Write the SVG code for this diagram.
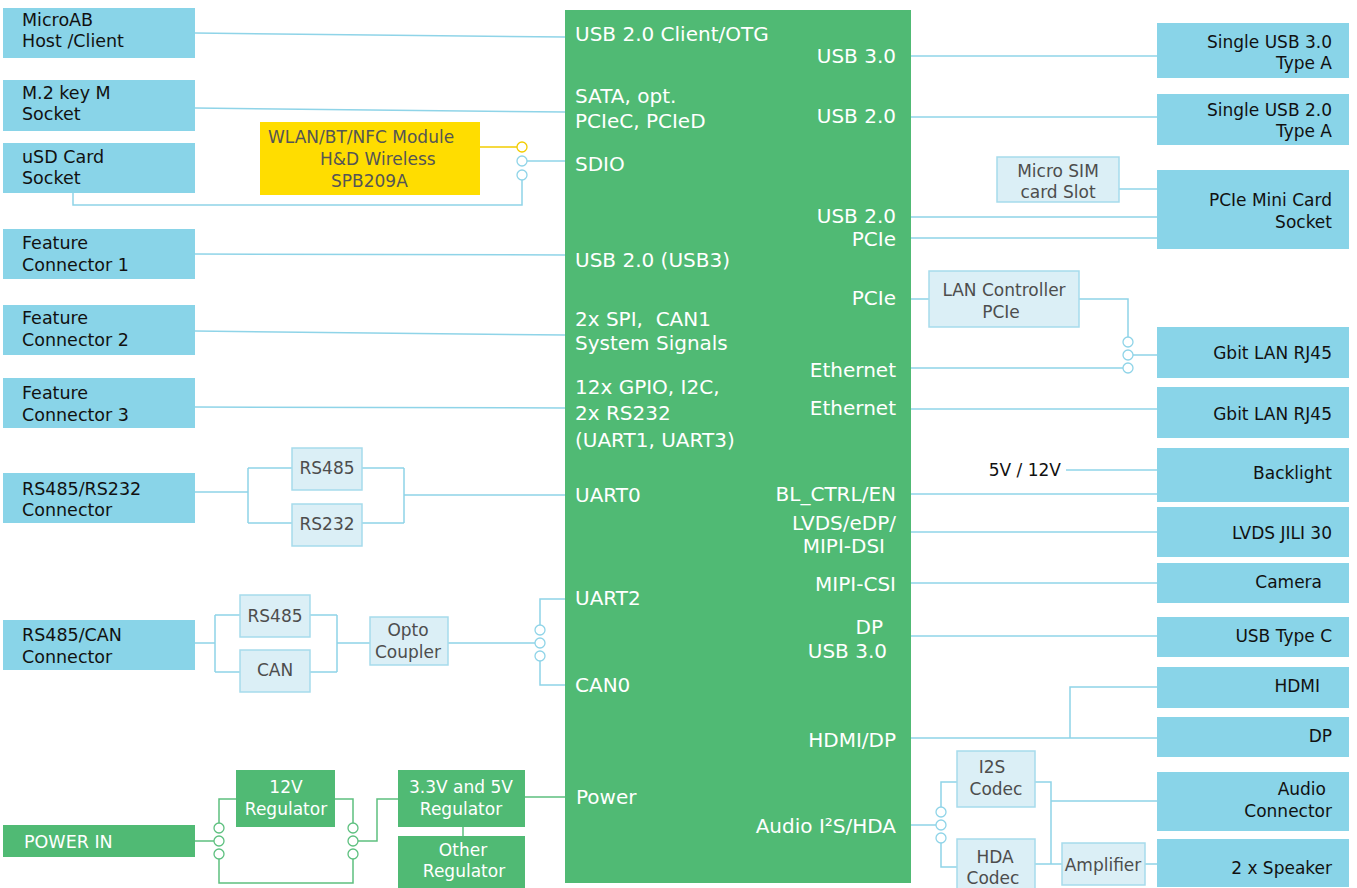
<svg xmlns="http://www.w3.org/2000/svg" width="1357" height="888" viewBox="0 0 1357 888">
<style>
.blue{fill:#89D4E8}
.green{fill:#50BA74}
.yellow{fill:#FFDD00}
.lite{fill:#DBEFF6;stroke:#A6DBEC;stroke-width:1.5}
text{font-family:"DejaVu Sans","Liberation Sans",sans-serif}
.tl{font-size:17.5px;fill:#111}
.tr{font-size:17px;fill:#111;text-anchor:end}
.tc{font-size:20px;fill:#fff}
.tce{font-size:20px;fill:#fff;text-anchor:end}
.tg{font-size:17px;fill:#4d4d4d;text-anchor:middle}
.tw{font-size:17px;fill:#fff;text-anchor:middle}
.ty{font-size:17px;fill:#555}
.ln{fill:none;stroke:#8FD4E8;stroke-width:1.5}
.lg{fill:none;stroke:#5DC07F;stroke-width:1.5}
.ly{fill:none;stroke:#F2CC00;stroke-width:1.5}
.cb{fill:#fff;stroke:#8FD4E8;stroke-width:1.3}
.cg{fill:#fff;stroke:#5DC07F;stroke-width:1.3}
.cy{fill:#fff;stroke:#F2CC00;stroke-width:1.3}
</style>
<rect width="1357" height="888" fill="#fff"/>

<g id="connectors">
<path class="ln" d="M195,33 L565,37"/>
<path class="ln" d="M195,108 L565,112"/>
<path class="ly" d="M480,147 L517,147"/>
<path class="ln" d="M527,161 L565,161"/>
<path class="ln" d="M73,193 V205 H522 V180"/>
<path class="ln" d="M195,254 L565,255"/>
<path class="ln" d="M195,331 L565,335"/>
<path class="ln" d="M195,407 L565,408"/>
<path class="ln" d="M195,492 H248 M248,468 V523 M248,468 H292 M248,523 H292 M362,468 H404 M362,523 H404 M404,468 V523 M404,495 H565"/>
<path class="ln" d="M195,643 H215 M215,615 V672 M215,615 H240 M215,672 H240 M310,615 H337 M310,672 H337 M337,615 V672 M337,643 H370 M448,643 H535"/>
<path class="ln" d="M540,625 V599 H565 M540,661 V685 H565"/>
<path class="lg" d="M195,841 H214 M219,823 V799 H236 M219,859 V883 H353 V859 M335,799 H353 V823 M358,841 H377 V799 H398 M525,797 H565 M463,827 V836"/>
<path class="ln" d="M911,56 H1157"/>
<path class="ln" d="M911,117 H1157"/>
<path class="ln" d="M1119,189 H1157"/>
<path class="ln" d="M911,217 H1157 M911,238 H1157"/>
<path class="ln" d="M911,299 H929 M1079,299 H1128 V337 M1133,355 H1157 M1123,368 H911"/>
<path class="ln" d="M911,409 H1157"/>
<path class="ln" d="M1066,470 H1157"/>
<path class="ln" d="M911,494 H1157"/>
<path class="ln" d="M911,532 H1157"/>
<path class="ln" d="M911,583 H1157"/>
<path class="ln" d="M911,636 H1157"/>
<path class="ln" d="M911,738 H1157 M1070,738 V687 H1157"/>
<path class="ln" d="M911,825 H936 M941,807 V782 H957 M941,843 V867 H957 M1035,782 H1051 V864 M1051,801 H1157 M1035,864 H1062 M1145,864 H1157"/>
<circle class="cy" cx="522" cy="147" r="5"/>
<circle class="cb" cx="522" cy="161" r="5"/>
<circle class="cb" cx="522" cy="175" r="5"/>
<circle class="cb" cx="540" cy="630" r="5"/>
<circle class="cb" cx="540" cy="643" r="5"/>
<circle class="cb" cx="540" cy="656" r="5"/>
<circle class="cg" cx="219" cy="828" r="5"/>
<circle class="cg" cx="219" cy="841" r="5"/>
<circle class="cg" cx="219" cy="854" r="5"/>
<circle class="cg" cx="353" cy="828" r="5"/>
<circle class="cg" cx="353" cy="841" r="5"/>
<circle class="cg" cx="353" cy="854" r="5"/>
<circle class="cb" cx="1128" cy="342" r="5"/>
<circle class="cb" cx="1128" cy="355" r="5"/>
<circle class="cb" cx="1128" cy="368" r="5"/>
<circle class="cb" cx="941" cy="812" r="5"/>
<circle class="cb" cx="941" cy="825" r="5"/>
<circle class="cb" cx="941" cy="838" r="5"/>
<text x="1061" y="476" class="tr">5V / 12V</text>
</g>

<g id="soc">
<rect class="green" x="565" y="10" width="346" height="873"/>
<text class="tc" x="575" y="41">USB 2.0 Client/OTG</text>
<text class="tc" x="575" y="103">SATA, opt.</text>
<text class="tc" x="575" y="128">PCIeC, PCIeD</text>
<text class="tc" x="575" y="171">SDIO</text>
<text class="tc" x="575" y="267">USB 2.0 (USB3)</text>
<text class="tc" x="575" y="326">2x SPI,&#160; CAN1</text>
<text class="tc" x="575" y="350">System Signals</text>
<text class="tc" x="575" y="394">12x GPIO, I2C,</text>
<text class="tc" x="575" y="420">2x RS232</text>
<text class="tc" x="575" y="447">(UART1, UART3)</text>
<text class="tc" x="575" y="502">UART0</text>
<text class="tc" x="575" y="605">UART2</text>
<text class="tc" x="575" y="692">CAN0</text>
<text class="tc" x="576" y="804">Power</text>
<text class="tce" x="896" y="63">USB 3.0</text>
<text class="tce" x="896" y="123">USB 2.0</text>
<text class="tce" x="896" y="223">USB 2.0</text>
<text class="tce" x="896" y="246">PCIe</text>
<text class="tce" x="896" y="305">PCIe</text>
<text class="tce" x="896" y="377">Ethernet</text>
<text class="tce" x="896" y="415">Ethernet</text>
<text class="tce" x="896" y="501">BL_CTRL/EN</text>
<text class="tce" x="896" y="530">LVDS/eDP/</text>
<text class="tce" x="885" y="553">MIPI-DSI</text>
<text class="tce" x="896" y="591">MIPI-CSI</text>
<text class="tce" x="883" y="634">DP</text>
<text class="tce" x="887" y="658">USB 3.0</text>
<text class="tce" x="896" y="747">HDMI/DP</text>
<text class="tce" x="896" y="833">Audio I²S/HDA</text>
</g>

<g id="microab"><rect class="blue" x="3" y="8" width="192" height="50"/><text class="tl" x="22" y="26">MicroAB</text><text class="tl" x="22" y="47">Host /Client</text></g>
<g id="m2"><rect class="blue" x="3" y="80" width="192" height="51"/><text class="tl" x="22" y="99">M.2 key M</text><text class="tl" x="22" y="120">Socket</text></g>
<g id="usd"><rect class="blue" x="3" y="143" width="192" height="50"/><text class="tl" x="22" y="163">uSD Card</text><text class="tl" x="22" y="184">Socket</text></g>
<g id="wlan"><rect class="yellow" x="260" y="122" width="220" height="73"/><text class="ty" x="268" y="143">WLAN/BT/NFC Module</text><text class="ty" x="320" y="165">H&amp;D Wireless</text><text class="ty" x="331" y="187">SPB209A</text></g>
<g id="feat1"><rect class="blue" x="3" y="229" width="192" height="50"/><text class="tl" x="22" y="249">Feature</text><text class="tl" x="22" y="271">Connector 1</text></g>
<g id="feat2"><rect class="blue" x="3" y="305" width="192" height="50"/><text class="tl" x="22" y="324">Feature</text><text class="tl" x="22" y="346">Connector 2</text></g>
<g id="feat3"><rect class="blue" x="3" y="378" width="192" height="50"/><text class="tl" x="22" y="399">Feature</text><text class="tl" x="22" y="421">Connector 3</text></g>
<g id="rs485rs232"><rect class="blue" x="3" y="473" width="192" height="50"/><text class="tl" x="22" y="495">RS485/RS232</text><text class="tl" x="22" y="516">Connector</text></g>
<g id="rs485a"><rect class="lite" x="292" y="448" width="70" height="42"/><text class="tg" x="327" y="474">RS485</text></g>
<g id="rs232"><rect class="lite" x="292" y="504" width="70" height="42"/><text class="tg" x="327" y="530">RS232</text></g>
<g id="rs485can"><rect class="blue" x="3" y="620" width="192" height="50"/><text class="tl" x="22" y="641">RS485/CAN</text><text class="tl" x="22" y="663">Connector</text></g>
<g id="rs485b"><rect class="lite" x="240" y="595" width="70" height="42"/><text class="tg" x="275" y="622">RS485</text></g>
<g id="can"><rect class="lite" x="240" y="650" width="70" height="42"/><text class="tg" x="275" y="676">CAN</text></g>
<g id="opto"><rect class="lite" x="370" y="617" width="78" height="48"/><text class="tg" x="408" y="636">Opto</text><text class="tg" x="408" y="658">Coupler</text></g>
<g id="powerin"><rect class="green" x="3" y="825" width="192" height="32"/><text class="tl" x="24" y="848" style="fill:#fff">POWER IN</text></g>
<g id="reg12"><rect class="green" x="236" y="770" width="99" height="57"/><text class="tw" x="286" y="793">12V</text><text class="tw" x="286" y="815">Regulator</text></g>
<g id="reg33"><rect class="green" x="398" y="770" width="127" height="57"/><text class="tw" x="461" y="793">3.3V and 5V</text><text class="tw" x="461" y="815">Regulator</text></g>
<g id="regother"><rect class="green" x="398" y="836" width="127" height="52"/><text class="tw" x="463" y="856">Other</text><text class="tw" x="464" y="877">Regulator</text></g>

<g id="usb3a"><rect class="blue" x="1157" y="23" width="192" height="55"/><text class="tr" x="1332" y="48">Single USB 3.0</text><text class="tr" x="1332" y="69">Type A</text></g>
<g id="usb2a"><rect class="blue" x="1157" y="94" width="192" height="51"/><text class="tr" x="1332" y="116">Single USB 2.0</text><text class="tr" x="1332" y="137">Type A</text></g>
<g id="sim"><rect class="lite" x="997" y="157" width="122" height="45"/><text class="tg" x="1058" y="177">Micro SIM</text><text class="tg" x="1058" y="198">card Slot</text></g>
<g id="pciemini"><rect class="blue" x="1157" y="170" width="192" height="79"/><text class="tr" x="1332" y="206">PCIe Mini Card</text><text class="tr" x="1332" y="228">Socket</text></g>
<g id="lanctrl"><rect class="lite" x="929" y="271" width="150" height="56"/><text class="tg" x="1004" y="296">LAN Controller</text><text class="tg" x="1001" y="318">PCIe</text></g>
<g id="gbit1"><rect class="blue" x="1157" y="327" width="192" height="51"/><text class="tr" x="1332" y="359">Gbit LAN RJ45</text></g>
<g id="gbit2"><rect class="blue" x="1157" y="387" width="192" height="51"/><text class="tr" x="1332" y="420">Gbit LAN RJ45</text></g>
<g id="backlight"><rect class="blue" x="1157" y="448" width="192" height="54"/><text class="tr" x="1332" y="479">Backlight</text></g>
<g id="lvds"><rect class="blue" x="1157" y="507" width="192" height="50"/><text class="tr" x="1332" y="539">LVDS JILI 30</text></g>
<g id="camera"><rect class="blue" x="1157" y="563" width="192" height="40"/><text class="tr" x="1322" y="588">Camera</text></g>
<g id="usbc"><rect class="blue" x="1157" y="617" width="192" height="40"/><text class="tr" x="1332" y="642">USB Type C</text></g>
<g id="hdmi"><rect class="blue" x="1157" y="667" width="192" height="41"/><text class="tr" x="1320" y="692">HDMI</text></g>
<g id="dp"><rect class="blue" x="1157" y="717" width="192" height="40"/><text class="tr" x="1332" y="742">DP</text></g>
<g id="i2s"><rect class="lite" x="957" y="751" width="78" height="56"/><text class="tg" x="992" y="773">I2S</text><text class="tg" x="996" y="795">Codec</text></g>
<g id="hda"><rect class="lite" x="957" y="839" width="78" height="52"/><text class="tg" x="995" y="863">HDA</text><text class="tg" x="993" y="884">Codec</text></g>
<g id="amp"><rect class="lite" x="1062" y="843" width="83" height="42"/><text class="tg" x="1103" y="871">Amplifier</text></g>
<g id="audio"><rect class="blue" x="1157" y="772" width="192" height="59"/><text class="tr" x="1326" y="795">Audio</text><text class="tr" x="1332" y="817">Connector</text></g>
<g id="speaker"><rect class="blue" x="1157" y="839" width="192" height="48"/><text class="tr" x="1332" y="874">2 x Speaker</text></g>
</svg>
